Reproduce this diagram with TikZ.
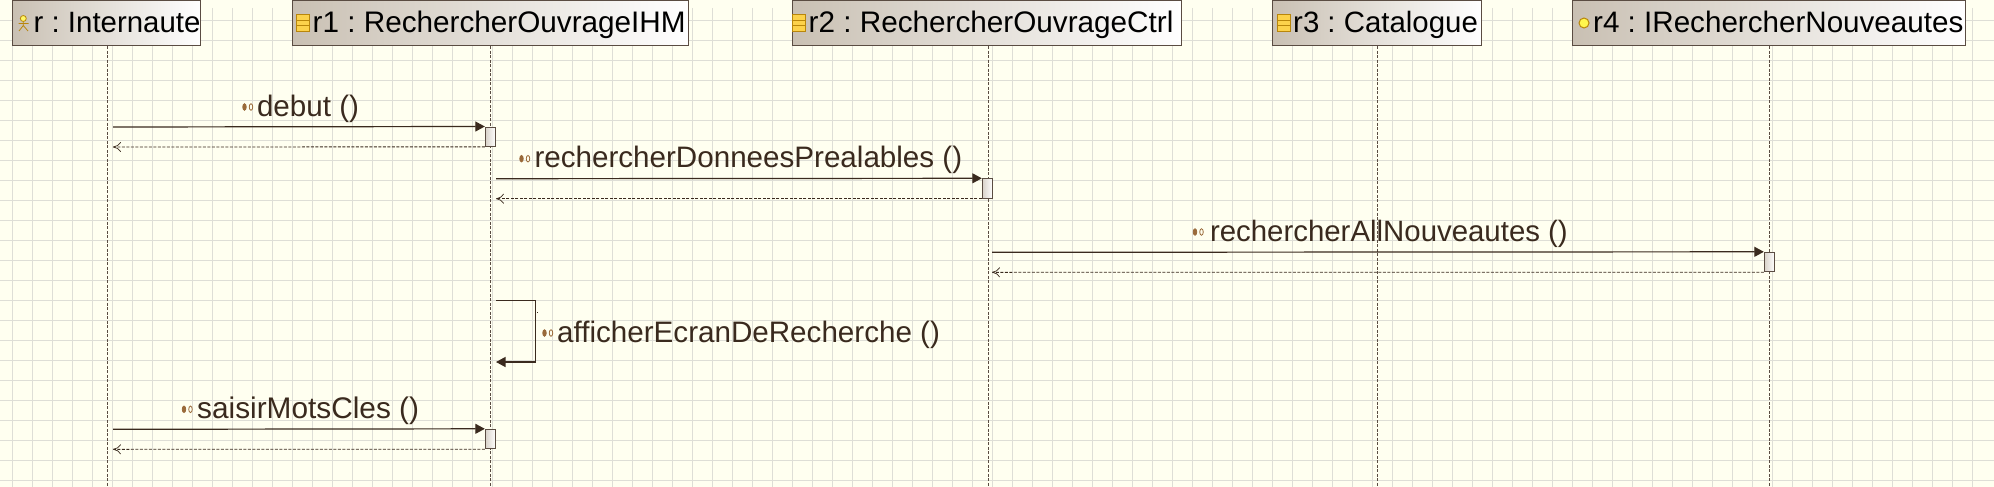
\documentclass[tikz,border=0pt]{standalone}
\usepackage{fontspec}
\setmainfont{Liberation Sans}
\frenchspacing
\definecolor{bgc}{HTML}{FFFFF0}
\definecolor{gridc}{HTML}{DEDED6}
\definecolor{edgec}{HTML}{5A4C42}
\definecolor{inkc}{HTML}{3A2A1E}
\definecolor{hdl}{HTML}{C9C0B3}
\definecolor{iconc}{HTML}{B8860B}
\definecolor{opc}{HTML}{9A6A3A}
\usetikzlibrary{arrows.meta,shapes.geometric}
\tikzset{
  x=1pt,y=-1pt,
  hdr/.style={draw=edgec,line width=1pt,left color=hdl,right color=white,inner sep=0,minimum height=45.5pt,rectangle},
  htext/.style={anchor=base west,inner sep=0,font=\fontsize{29.6}{34}\selectfont,text=black},
  mtext/.style={anchor=base west,inner sep=0,font=\fontsize{29.6}{34}\selectfont,text=inkc},
  life/.style={draw=edgec,line width=0.9pt,dash pattern=on 3pt off 1.5pt},
  act/.style={draw=edgec,line width=1pt,left color=hdl!70,right color=white,inner sep=0,minimum width=10.4pt,minimum height=19.4pt,rectangle},
  call/.style={draw=inkc,line width=1.2pt,-{Triangle[length=9.5pt,width=10pt,fill=inkc]}},
  ret/.style={draw=inkc,line width=0.9pt,dash pattern=on 3pt off 1.5pt,-{To[length=8pt,width=10pt,line width=0.7pt]}},
  opa/.style={ellipse,draw=opc,fill=opc,line width=0.8pt,inner sep=0,minimum width=3.5pt,minimum height=6.5pt},
  opb/.style={ellipse,draw=opc,fill=bgc,line width=0.8pt,inner sep=0,minimum width=3.5pt,minimum height=6.5pt}
}
\newcommand{\opicon}[3]{\node[opa] (#3a) at (#1,#2) {};\node[opb] (#3b) at (#1+6.5,#2) {};}
\newcommand{\clsicon}[3]{%
  \node[rectangle,draw=iconc,fill=yellow!55!orange!70,line width=1pt,minimum width=13pt,minimum height=17pt,inner sep=0] (#3) at (#1,#2) {};
  \draw[iconc,line width=1pt] (#3.west |- 0,#2-2.5) -- (#3.east |- 0,#2-2.5) (#3.west |- 0,#2+2.5) -- (#3.east |- 0,#2+2.5);}
\begin{document}
\begin{tikzpicture}
\useasboundingbox (0,0) rectangle (1994,487);
\fill[bgc] (0,0) rectangle (1994,487);
\foreach \k in {0,...,98} \draw[gridc,line width=1pt] ({12.5+20*\k},8) -- ({12.5+20*\k},487);
\foreach \k in {0,...,24} \draw[gridc,line width=1pt] (0,{20.5+20*\k}) -- (1994,{20.5+20*\k});

% lifelines
\coordinate (l0) at (107.6,487); \coordinate (l1) at (490.6,487); \coordinate (l2) at (988,487);
\coordinate (l3) at (1377.5,487); \coordinate (l4) at (1769.4,487);

% headers
\node[hdr,minimum width=188.5pt] (h0) at (106.7,23) {};
\node[hdr,minimum width=396pt] (h1) at (490,23) {};
\node[hdr,minimum width=389pt] (h2) at (986.5,23) {};
\node[hdr,minimum width=208.4pt] (h3) at (1376.8,23) {};
\node[hdr,minimum width=392.8pt] (h4) at (1769.1,23) {};
\draw[life] (h0.south -| l0) -- (l0);
\draw[life] (h1.south -| l1) -- (l1);
\draw[life] (h2.south -| l2) -- (l2);
\draw[life] (h3.south -| l3) -- (l3);
\draw[life] (h4.south -| l4) -- (l4);
\node[htext,font=\fontsize{29.4}{34}\selectfont] (t0) at (33.5,32.5) {r : Internaute};
\node[htext,font=\fontsize{29.7}{34}\selectfont] (t1) at (312.5,32.5) {r1 : RechercherOuvrageIHM};
\node[htext,font=\fontsize{29.7}{34}\selectfont] (t2) at (808.5,32.5) {r2 : RechercherOuvrageCtrl};
\node[htext,font=\fontsize{29.4}{34}\selectfont] (t3) at (1293,32.5) {r3 : Catalogue};
\node[htext] (t4) at (1593,32.5) {r4 : IRechercherNouveautes};
% header icons
\node[circle,draw=iconc,fill=yellow!60,line width=0.8pt,inner sep=0,minimum size=6pt] (ih) at (23.3,18.5) {};
\coordinate (ib) at (23.3,25.5); \coordinate (if1) at (19,31); \coordinate (if2) at (28,31);
\coordinate (ia1) at (18.5,23.5); \coordinate (ia2) at (28.5,23.5);
\draw[iconc,line width=0.8pt] (ih) -- (ib) -- (if1) (ib) -- (if2) (ia1) -- (ia2);
\clsicon{303}{23}{i1}
\clsicon{799}{23}{i2}
\clsicon{1283.5}{23}{i3}
\node[ellipse,draw=iconc,fill=yellow!70,line width=1pt,inner sep=0,minimum width=10pt,minimum height=10pt] (i4) at (1584,23) {};

% activations
\node[act] (a1) at (490.5,136.7) {};
\node[act] (a2) at (987.5,188.5) {};
\node[act] (a3) at (1769.5,262) {};
\node[act] (a4) at (490.5,439) {};
% messages
\coordinate (s1) at (113,127);\coordinate (e1) at (113,147);
\coordinate (s2) at (496,178.7);\coordinate (e2) at (496,198.7);
\coordinate (s3) at (992,252.3);\coordinate (e3) at (992,272.3);
\coordinate (s4) at (113,429.3);\coordinate (e4) at (113,449.3);
\draw[call] (s1) -- (a1.north west);
\draw[ret] (a1.south west) -- (e1);
\draw[call] (s2) -- (a2.north west);
\draw[ret] (a2.south west) -- (e2);
\draw[call] (s3) -- (a3.north west);
\draw[ret] (a3.south west) -- (e3);
\draw[call] (s4) -- (a4.north west);
\draw[ret] (a4.south west) -- (e4);
\coordinate (sa) at (496,300.3); \coordinate (sb) at (535.7,300.3); \coordinate (sc) at (535.7,362); \coordinate (sd) at (496,362);
\draw[call] (sa) -- (sb) -- (sc) -- (sd);
\fill[inkc] (537,312) rectangle (538,313);
% labels
\opicon{244.5}{107}{o1}\node[mtext] (m1) at (256.8,116.7) {debut ()};
\opicon{521.5}{158.7}{o2}\node[mtext] (m2) at (534.3,167.7) {rechercherDonneesPrealables ()};
\opicon{1195}{232}{o3}\node[mtext,font=\fontsize{29.4}{34}\selectfont] (m3) at (1209.8,241.3) {rechercherAllNouveautes ()};
\opicon{544.5}{333}{o4}\node[mtext] (m4) at (557,342) {afficherEcranDeRecherche ()};
\opicon{184}{409.3}{o5}\node[mtext,font=\fontsize{29.8}{34}\selectfont] (m5) at (197,418.7) {saisirMotsCles ()};
\end{tikzpicture}
\end{document}
